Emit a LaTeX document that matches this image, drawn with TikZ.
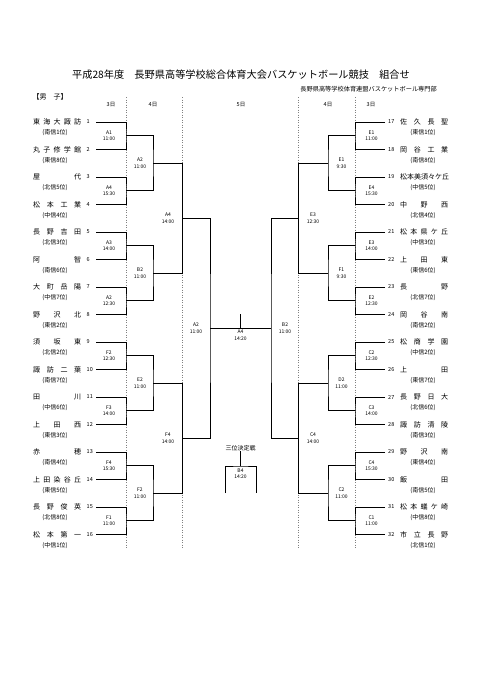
\documentclass[tikz,border=0pt]{standalone}
\usepackage{fontspec}
\setmainfont{Noto Sans CJK JP}
\usetikzlibrary{positioning}

\begin{document}
\begin{tikzpicture}[
  x=1pt, y=-1pt,
  team/.style = {font=\fontsize{7}{7}\selectfont, inner sep=0pt},
  num/.style  = {font=\fontsize{5.5}{5.5}\selectfont, inner sep=0pt},
  rank/.style = {font=\fontsize{6}{6}\selectfont, inner sep=0pt},
  lab/.style  = {font=\fontsize{5}{6.5}\selectfont, align=center, inner sep=0pt},
  day/.style  = {font=\fontsize{5.5}{5.5}\selectfont, inner sep=0pt},
  br/.style   = {draw=black, line width=0.6pt},
  sep/.style  = {draw=gray, dotted, line width=0.5pt}
]

\path[fill=white, use as bounding box] (0,0) rectangle (481,680);

\node[font=\fontsize{10.2}{10.2}\selectfont] (title) at (241,75)
  {平成28年度　長野県高等学校総合体育大会バスケットボール競技　組合せ};
\node[font=\fontsize{6.2}{6.2}\selectfont, anchor=east, inner sep=0pt] (org) at (437,89)
  {長野県高等学校体育連盟バスケットボール専門部};
\node[font=\fontsize{7}{7}\selectfont, inner sep=0pt] (sex) at (50,96.5) {【男　子】};

\node[day] (d1) at (111,104.5) {3日};
\node[day] (d2) at (153,104.5) {4日};
\node[day] (d3) at (241,104.5) {5日};
\node[day] (d4) at (328,104.5) {4日};
\node[day] (d5) at (371,104.5) {3日};

\foreach \x in {126, 182.5, 298.5, 355}
  \draw[sep] (\x,97) -- (\x,548);

% teams
\foreach \nm/\rk [count=\i] in {
  東 海 大 諏 訪/南信1位, 丸 子 修 学 館/東信8位, 屋 代/北信5位, 松 本 工 業/中信4位,
  長 野 吉 田/北信3位, 阿 智/南信6位, 大 町 岳 陽/中信7位, 野 沢 北/東信2位,
  須 坂 東/北信2位, 諏 訪 二 葉/南信7位, 田 川/中信6位, 上 田 西/東信3位,
  赤 穂/南信4位, 上 田 染 谷 丘/東信5位, 長 野 俊 英/北信8位, 松 本 第 一/中信1位}{
  \pgfmathsetmacro\ty{122+(\i-1)*27.5}
  \node[team, anchor=west] (name\i) at (33,\ty) {\makebox[48pt][s]{\nm}};
  \node[num, anchor=west] (num\i) at (86.5,\ty) {\i};
  \node[rank] (rank\i) at (55,\ty+11) {(\rk)};
  \coordinate (T\i) at (96,\ty);
}
\foreach \nm/\rk [count=\i from 17] in {
  佐 久 長 聖/東信1位, 岡 谷 工 業/南信8位, 松本美須々ケ丘/中信5位, 中 野 西/北信4位,
  松 本 県 ケ 丘/中信3位, 上 田 東/東信6位, 長 野/北信7位, 岡 谷 南/南信2位,
  松 商 学 園/中信2位, 上 田/東信7位, 長 野 日 大/北信6位, 諏 訪 清 陵/南信3位,
  野 沢 南/東信4位, 飯 田/南信5位, 松 本 蟻 ケ 崎/中信8位, 市 立 長 野/北信1位}{
  \pgfmathsetmacro\ty{122+(\i-17)*27.5}
  \node[team, anchor=west] (name\i) at (400,\ty) {\makebox[48pt][s]{\nm}};
  \node[num, anchor=west] (num\i) at (388,\ty) {\i};
  \node[rank] (rank\i) at (423,\ty+11) {(\rk)};
  \coordinate (T\i) at (385,\ty);
}

% 3日
\foreach \j/\mt/\tm in {1/A1/11:00, 2/A4/15:30, 3/A3/14:00, 4/A2/12:30,
                        5/F2/12:30, 6/F3/14:00, 7/F4/15:30, 8/F1/11:00}{
  \pgfmathtruncatemacro\a{2*\j-1}
  \pgfmathtruncatemacro\b{2*\j}
  \pgfmathsetmacro\my{122+(2*\j-1.5)*27.5}
  \coordinate (LA\j) at (126,\my);
  \draw[br] (T\a) -| (LA\j) |- (T\b);
  \node[lab] (labLA\j) at (109,\my) {\mt\\\tm};
}
\foreach \j/\mt/\tm in {1/E1/11:00, 2/E4/15:30, 3/E3/14:00, 4/E2/12:30,
                        5/C2/12:30, 6/C3/14:00, 7/C4/15:30, 8/C1/11:00}{
  \pgfmathtruncatemacro\a{16+2*\j-1}
  \pgfmathtruncatemacro\b{16+2*\j}
  \pgfmathsetmacro\my{122+(2*\j-1.5)*27.5}
  \coordinate (RA\j) at (355,\my);
  \draw[br] (T\a) -| (RA\j) |- (T\b);
  \node[lab] (labRA\j) at (371.5,\my) {\mt\\\tm};
}

% 4日
\foreach \k/\mt/\tm in {1/A2/11:00, 2/B2/11:00, 3/E2/11:00, 4/F2/11:00}{
  \pgfmathtruncatemacro\a{2*\k-1}
  \pgfmathtruncatemacro\b{2*\k}
  \pgfmathsetmacro\my{122+(4*\k-2.5)*27.5}
  \coordinate (LB\k) at (153,\my);
  \draw[br] (LA\a) -| (LB\k) |- (LA\b);
  \node[lab] (labLB\k) at (140,\my) {\mt\\\tm};
}
\foreach \k/\mt/\tm in {1/E1/9:30, 2/F1/9:30, 3/D2/11:00, 4/C2/11:00}{
  \pgfmathtruncatemacro\a{2*\k-1}
  \pgfmathtruncatemacro\b{2*\k}
  \pgfmathsetmacro\my{122+(4*\k-2.5)*27.5}
  \coordinate (RB\k) at (328,\my);
  \draw[br] (RA\a) -| (RB\k) |- (RA\b);
  \node[lab] (labRB\k) at (341.5,\my) {\mt\\\tm};
}
\foreach \m/\mt/\tm in {1/A4/14:00, 2/F4/14:00}{
  \pgfmathtruncatemacro\a{2*\m-1}
  \pgfmathtruncatemacro\b{2*\m}
  \pgfmathsetmacro\my{122+(8*\m-4.5)*27.5}
  \coordinate (LC\m) at (182.5,\my);
  \draw[br] (LB\a) -| (LC\m) |- (LB\b);
  \node[lab] (labLC\m) at (168,\my) {\mt\\\tm};
}
\foreach \m/\mt/\tm in {1/E3/12:30, 2/C4/14:00}{
  \pgfmathtruncatemacro\a{2*\m-1}
  \pgfmathtruncatemacro\b{2*\m}
  \pgfmathsetmacro\my{122+(8*\m-4.5)*27.5}
  \coordinate (RC\m) at (298.5,\my);
  \draw[br] (RB\a) -| (RC\m) |- (RB\b);
  \node[lab] (labRC\m) at (313,\my) {\mt\\\tm};
}

% 5日
\coordinate (LD) at (210,328.25);
\coordinate (RD) at (271,328.25);
\draw[br] (LC1) -| (LD) |- (LC2);
\draw[br] (RC1) -| (RD) |- (RC2);
\node[lab] (labLD) at (196,328.25) {A2\\11:00};
\node[lab] (labRD) at (285,328.25) {B2\\11:00};

\coordinate (fin) at (240.5,328.25);
\coordinate (finTop) at (240.5,314);
\draw[br] (LD) -- (RD);
\draw[br] (fin) -- (finTop);
\node[lab, anchor=north] (labFin) at (240.5,330) {A4\\14:20};

\node[font=\fontsize{6}{6}\selectfont, inner sep=0pt] (third) at (240.5,448) {三位決定戦};
\coordinate (thr) at (240.5,466);
\coordinate (thrL) at (225,493);
\coordinate (thrR) at (256,493);
\draw[br] (third.south) -- (thr);
\draw[br] (thrL) |- (thr) -| (thrR);
\node[lab] (labThr) at (240.5,473.5) {B4\\14:20};

\end{tikzpicture}
\end{document}
